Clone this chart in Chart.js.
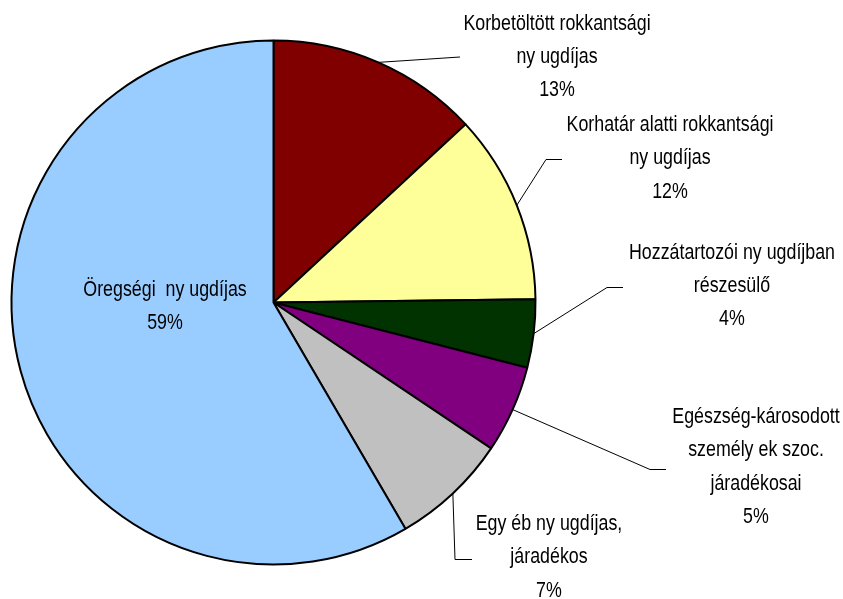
<!DOCTYPE html>
<html>
<head>
<meta charset="utf-8">
<script src="https://cdn.jsdelivr.net/npm/chart.js@4/dist/chart.umd.min.js"></script>
<style>
  html, body { margin: 0; padding: 0; background: #ffffff; }
  #wrap { width: 843px; height: 599px; }
</style>
</head>
<body>
<div id="wrap"><canvas id="c" width="843" height="599"></canvas></div>
<script>
// ---- data ----
const categories = [
  'Korbetöltött rokkantsági\nny ugdíjas',
  'Korhatár alatti rokkantsági\nny ugdíjas',
  'Hozzátartozói ny ugdíjban\nrészesülő',
  'Egészség-károsodott\nszemély ek szoc.\njáradékosai',
  'Egy éb ny ugdíjas,\njáradékos',
  'Öregségi  ny ugdíjas'
];
const values = [13.1, 11.7, 4.2, 5.4, 7.2, 58.4];
const percentLabels = ['13%', '12%', '4%', '5%', '7%', '59%'];

// ---- styling / layout (kept separate from data) ----
const colors = ['#800000', '#FFFF99', '#003300', '#800080', '#C0C0C0', '#99CCFF'];
// label anchor: center x, first baseline y; leader elbow & end (null = no leader)
const labelLayout = [
  { x: 557, y: 29.5,  elbow: [460, 57],    end: [460, 57] },
  { x: 670, y: 131,   elbow: [546, 159.5], end: [562, 159.5] },
  { x: 732, y: 258.5, elbow: [607, 287.5], end: [623, 287.5] },
  { x: 756, y: 423,   elbow: [650, 469.5], end: [666, 469.5] },
  { x: 549, y: 530,   elbow: [455, 559.5], end: [472, 559.5] },
  { x: 165, y: 296,   elbow: null, end: null }
];
const lineHeight = 33.3;

const labelPlugin = {
  id: 'sliceLabels',
  afterDraw(chart) {
    const ctx = chart.ctx;
    const meta = chart.getDatasetMeta(0);
    meta.data.forEach((arc, i) => {
      const L = labelLayout[i];
      const p = arc.getProps(['x', 'y', 'startAngle', 'endAngle', 'outerRadius'], true);
      if (L.elbow) {
        const mid = (p.startAngle + p.endAngle) / 2;
        const sx = p.x + Math.cos(mid) * p.outerRadius;
        const sy = p.y + Math.sin(mid) * p.outerRadius;
        ctx.save();
        ctx.strokeStyle = '#000000';
        ctx.lineWidth = 1;
        ctx.beginPath();
        ctx.moveTo(sx, sy);
        ctx.lineTo(L.elbow[0], L.elbow[1]);
        ctx.lineTo(L.end[0], L.end[1]);
        ctx.stroke();
        ctx.restore();
      }
      const lines = categories[i].split('\n').concat([percentLabels[i]]);
      ctx.save();
      ctx.fillStyle = '#000000';
      ctx.font = '22px "Liberation Sans", Arial, sans-serif';
      ctx.textAlign = 'center';
      ctx.textBaseline = 'alphabetic';
      lines.forEach((t, k) => {
        ctx.save();
        ctx.translate(L.x, L.y + k * lineHeight);
        ctx.scale(0.81, 1);
        ctx.fillText(t, 0, 0);
        ctx.restore();
      });
      ctx.restore();
    });
  }
};

new Chart(document.getElementById('c'), {
  type: 'pie',
  data: {
    labels: categories,
    datasets: [{
      data: values,
      backgroundColor: colors,
      borderColor: '#000000',
      borderWidth: 2
    }]
  },
  options: {
    responsive: false,
    animation: false,
    radius: 262,
    rotation: 0,
    layout: { padding: { left: 10, right: 306, top: 39, bottom: 33 } },
    plugins: {
      legend: { display: false },
      tooltip: { enabled: false }
    }
  },
  plugins: [labelPlugin]
});
</script>
</body>
</html>
